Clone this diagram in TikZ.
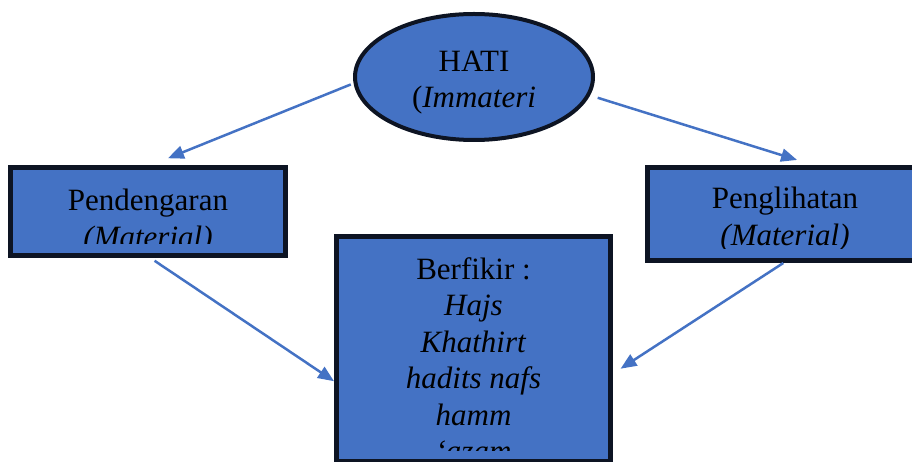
\documentclass[tikz,border=0pt]{standalone}
\usepackage{fontspec}
\setmainfont{Liberation Serif}
\usepackage{tikz}
\usetikzlibrary{arrows.meta}
\usetikzlibrary{shapes.geometric}

\definecolor{boxblue}{RGB}{68,114,196}
\definecolor{edgedark}{RGB}{13,20,35}

\begin{document}
\begin{tikzpicture}[x=1pt,y=-1pt,>={Triangle[length=16pt,width=13pt]},
                    shape node/.style={draw=edgedark,fill=boxblue,line width=5pt,inner sep=0pt},
                    text node/.style={align=center,anchor=base,inner sep=0pt,
                                      font=\fontsize{31}{36.5}\selectfont},
                    link/.style={->,draw=boxblue,fill=boxblue,line width=2.5pt}]

  \useasboundingbox (0,0) rectangle (912,462);

  \node[shape node,ellipse,line width=4pt,minimum width=238pt,minimum height=126pt] (hati) at (474,77) {};
  \node[shape node,minimum width=275pt,minimum height=88pt] (pend) at (148,211.5) {};
  \node[shape node,minimum width=275pt,minimum height=93pt] (peng) at (785,214) {};
  \node[shape node,minimum width=274pt,minimum height=225pt] (pikir) at (473.5,349) {};

  % base of a multi-line node is the last line
  \node[text node] (hatitext) at ([yshift=-31pt]hati.center) {HATI\\(\textit{Immateri}};

  \begin{scope}
    \clip (pend.north west) rectangle ([yshift=14pt]pend.south east);
    \node[text node] (pendtext) at ([yshift=-36pt]pend.center) {Pendengaran\\\textit{(Material)}};
  \end{scope}
  \begin{scope}
    \clip (peng.north west) rectangle ([yshift=14pt]peng.south east);
    \node[text node] (pengtext) at ([yshift=-31.5pt]peng.center) {Penglihatan\\\textit{(Material)}};
  \end{scope}
  \begin{scope}
    \clip (pikir.north west) rectangle ([yshift=14pt]pikir.south east);
    \node[text node] (pikirtext) at ([yshift=-227.5pt]pikir.north)
      {Berfikir :\\\textit{Hajs}\\\textit{Khathirt}\\\textit{hadits nafs}\\\textit{hamm}\\\textit{`azam}};
  \end{scope}

  \path
    (hati.183) edge[link,shorten <=3pt,shorten >=18pt] (pend.86)
    (hati.351) edge[link,shorten <=8pt,shorten >=17pt] (peng.60)
    (pend.273) edge[link,shorten <=5pt] (pikir.193)
    (peng.268) edge[link,shorten >=9pt] (pikir.350);
\end{tikzpicture}
\end{document}
